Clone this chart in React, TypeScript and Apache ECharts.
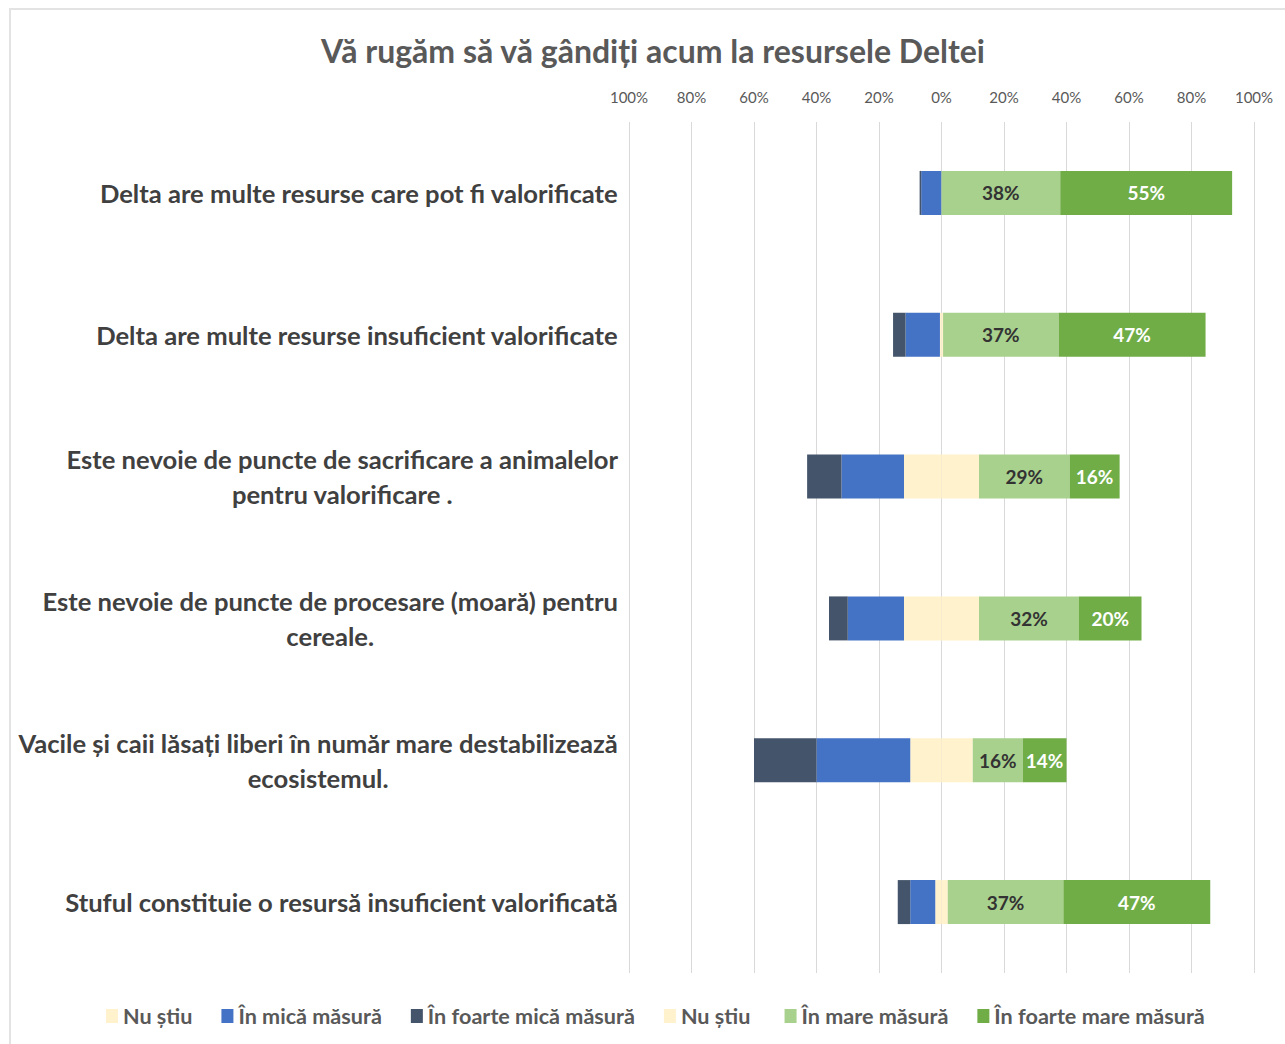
import React, { useEffect, useRef } from "react";
import * as echarts from "echarts";

const titleText = "Vă rugăm să vă gândiți acum la resursele Deltei";
const categories = [
  "Delta are multe resurse care pot fi valorificate",
  "Delta are multe resurse insuficient valorificate",
  "Este nevoie de puncte de sacrificare a animalelor\npentru valorificare .",
  "Este nevoie de puncte de procesare (moară) pentru\ncereale.",
  "Vacile și caii lăsați liberi în număr mare destabilizează\necosistemul.",
  "Stuful constituie o resursă insuficient valorificată",
];
// "Nu știu" total, split half on each side of zero
const nuStiu = [0, 1, 24, 24, 20, 4];
const inMica = [6.5, 11, 20, 18, 30, 8];
const inFoarteMica = [0.5, 4, 11, 6, 20, 4];
const inMare = [38, 37, 29, 32, 16, 37];
const inFoarteMare = [55, 47, 16, 20, 14, 47];
const xTicks = [-100, -80, -60, -40, -20, 0, 20, 40, 60, 80, 100];

const seriesNames = [
  "Nu știu",
  "În mică măsură",
  "În foarte mică măsură",
  "Nu știu ",
  "În mare măsură",
  "În foarte mare măsură",
];
const colors = ["#FFF2CC", "#4472C4", "#44546A", "#FFF2CC", "#A9D18E", "#70AD47"];

export default function App() {
  const ref = useRef<HTMLDivElement>(null);
  useEffect(() => {
    if (!ref.current) return;
    const chart = echarts.init(ref.current, undefined, { renderer: "svg" });
    const font = "Lato, 'Open Sans', sans-serif";
    const mk = (name: string, data: number[], color: string, label?: any) => ({
      name,
      type: "bar",
      stack: "total",
      barWidth: 44,
      data,
      itemStyle: { color },
      label: label || { show: false },
      emphasis: { disabled: true },
    });
    const barLabel = (c: string) => ({
      show: true,
      position: "inside",
      formatter: (p: any) => `${Math.round(p.value)}%`,
      color: c,
      fontFamily: font,
      fontWeight: "bold",
      fontSize: 19,
    });
    chart.setOption({
      animation: false,
      color: colors,
      textStyle: { fontFamily: font },
      title: {
        text: titleText,
        left: 316,
        top: 29,
        textStyle: { fontFamily: font, fontSize: 32, fontWeight: "bold", color: "#595959" },
      },
      graphic: [
        {
          type: "rect",
          shape: { x: 10, y: 9, width: 1300, height: 1100 },
          style: { fill: "none", stroke: "#e3e3e3", lineWidth: 2 },
          silent: true,
        },
      ],
      legend: {
        bottom: 12,
        left: 101,
        icon: "rect",
        itemWidth: 12,
        itemHeight: 14,
        itemGap: 29,
        data: seriesNames,
        textStyle: { fontFamily: font, fontSize: 21.6, fontWeight: "bold", color: "#595959" },
        selectedMode: false,
      },
      grid: { left: 629, right: 31, top: 122, bottom: 71 },
      xAxis: {
        type: "value",
        position: "top",
        min: xTicks[0],
        max: xTicks[xTicks.length - 1],
        interval: 20,
        axisLine: { show: false },
        axisTick: { show: false },
        axisLabel: {
          formatter: (v: number) => `${Math.abs(v)}%`,
          color: "#595959",
          fontSize: 15,
          fontFamily: font,
          margin: 18,
        },
        splitLine: { lineStyle: { color: "#d9d9d9", width: 1 } },
      },
      yAxis: {
        type: "category",
        data: categories,
        inverse: true,
        axisLine: { show: false },
        axisTick: { show: false },
        axisLabel: {
          margin: 11,
          formatter: (v: string) =>
            v
              .split("\n")
              .map((l) => `{c|${l}}`)
              .join("\n"),
          rich: {
            c: {
              align: "center",
              fontSize: 25.6,
              fontWeight: "bold",
              lineHeight: 35,
              color: "#404040",
              fontFamily: font,
            },
          },
        },
      },
      series: [
        mk(seriesNames[0], nuStiu.map((v) => -v / 2), colors[0]),
        mk(seriesNames[1], inMica.map((v) => -v), colors[1]),
        mk(seriesNames[2], inFoarteMica.map((v) => -v), colors[2]),
        mk(seriesNames[3], nuStiu.map((v) => v / 2), colors[3]),
        mk(seriesNames[4], inMare, colors[4], barLabel("#333333")),
        mk(seriesNames[5], inFoarteMare, colors[5], barLabel("#ffffff")),
      ],
    });
    return () => chart.dispose();
  }, []);
  return (
    <div style={{ position: "absolute", left: 0, top: 0, width: 1285, height: 1044, overflow: "hidden", background: "#fff" }}>
      <div ref={ref} style={{ width: 1285, height: 1044 }} />
    </div>
  );
}
